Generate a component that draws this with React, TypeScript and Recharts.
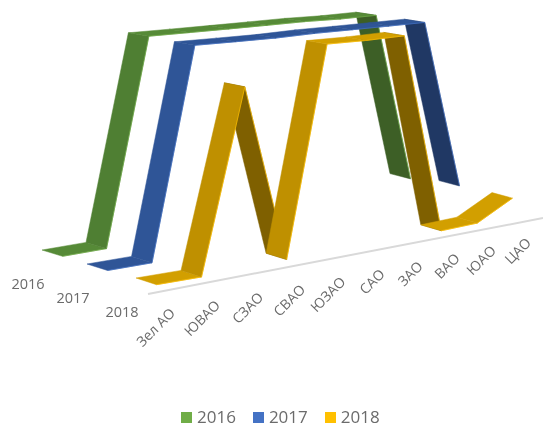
import React from 'react';
import { ComposedChart, Line, XAxis, YAxis, Legend } from 'recharts';

const CATEGORIES = ['Зел АО', 'ЮВАО', 'СЗАО', 'СВАО', 'ЮЗАО', 'САО', 'ЗАО', 'ВАО', 'ЮАО', 'ЦАО'];
const VALUES_2016 = [0, 0, 202, 198, 194, 190, 186, 181, 177, 8];
const VALUES_2017 = [0, 0, 207, 203, 199, 196, 192, 188, 184, 15];
const VALUES_2018 = [0, 0, 180, 2, 207, 203, 200, 0, 0, 17];
const YEARS = ['2016', '2017', '2018'];

const FONT = '"Open Sans", sans-serif';
const TEXT_COLOR = '#6b6b6b';

// the picture is an oblique 3D view: the floor climbs to the right, rows sit one behind the other
const POS_START = 12;
const FLOOR_RISE = 7.6;
const ROW_LIFT: Record<string, number> = { '2016': 50, '2017': 36, '2018': 22 };
const DEPTH_X = 20.5;

// categories get closer together towards the right
const perspective = (i: number) => Math.sqrt(POS_START + i);

const data = CATEGORIES.map((name, i) => ({
  name,
  pos: perspective(i),
  '2016': VALUES_2016[i] + ROW_LIFT['2016'] + FLOOR_RISE * i,
  '2017': VALUES_2017[i] + ROW_LIFT['2017'] + FLOOR_RISE * i,
  '2018': VALUES_2018[i] + ROW_LIFT['2018'] + FLOOR_RISE * i,
  floor: i === 0 || i === CATEGORIES.length - 1 ? 6 + 8.44 * i : null,
}));

const SHADES: Record<string, { rise: string; flat: string; fall: string; edge: string }> = {
  '2016': { rise: '#4f7f33', flat: '#568a37', fall: '#3d5f26', edge: '#70AD47' },
  '2017': { rise: '#2f5597', flat: '#2f5597', fall: '#203864', edge: '#4472C4' },
  '2018': { rise: '#bf9000', flat: '#d29f00', fall: '#7f6000', edge: '#FFC000' },
};

const depthY = (y: number) => 3.5 + ((y - 40) / 240) * 3.2;

// one ribbon, drawn once from the line's own points; falling faces go behind the rising ones
const ribbonDot = (year: string) => (props: any) => {
  const { index, points } = props;
  if (index !== 0) return <g key={`empty-${year}-${index}`} />;
  const segments = points.slice(0, -1).map((p: any, i: number) => {
    const q = points[i + 1];
    const change = q.y - p.y;
    const kind = change > 0 ? 'fall' : change < -60 ? 'rise' : 'flat';
    return { p, q, kind, i };
  });
  const ordered = [
    ...segments.filter((s: any) => s.kind === 'fall'),
    ...segments.filter((s: any) => s.kind !== 'fall'),
  ];
  const shade = SHADES[year];
  return (
    <g key={`ribbon-${year}`}>
      {ordered.map(({ p, q, kind, i }: any) => {
        const px = p.x + DEPTH_X;
        const py = p.y + depthY(p.y);
        const qx = q.x + DEPTH_X;
        const qy = q.y + depthY(q.y);
        return (
          <g key={i}>
            <polygon
              points={`${p.x},${p.y} ${q.x},${q.y} ${qx},${qy} ${px},${py}`}
              fill={(shade as any)[kind]}
              stroke={(shade as any)[kind]}
              strokeWidth={0.5}
            />
            <line x1={px} y1={py} x2={qx} y2={qy} stroke={shade.edge} strokeWidth={1} strokeOpacity={0.7} />
          </g>
        );
      })}
    </g>
  );
};

const rowLabel = (year: string) => (props: any) => {
  if (props.index !== 0) return <g key={`nolabel-${year}-${props.index}`} />;
  return (
    <text
      key={`label-${year}`}
      x={props.x - 14}
      y={props.y + 39}
      textAnchor="middle"
      fontSize={14.5}
      fontFamily={FONT}
      fill={TEXT_COLOR}
    >
      {year}
    </text>
  );
};

const CategoryTick = (props: any) => {
  const i = data.findIndex((d) => Math.abs(d.pos - props.payload.value) < 1e-6);
  const x = props.x + 40;
  const y = props.y - 54 - 7.8 * i;
  return (
    <text
      x={x}
      y={y}
      textAnchor="end"
      fontSize={14}
      fontFamily={FONT}
      fill={TEXT_COLOR}
      transform={`rotate(-45 ${x} ${y})`}
    >
      {CATEGORIES[i]}
    </text>
  );
};

const LegendRow = ({ payload }: any) => (
  <div style={{ display: 'flex', paddingLeft: 181, fontFamily: FONT, fontSize: 17, color: TEXT_COLOR, lineHeight: '14px' }}>
    {(payload || [])
      .filter((item: any) => YEARS.includes(item.value))
      .map((item: any) => (
        <div key={item.value} style={{ display: 'flex', alignItems: 'center', marginRight: 17 }}>
          <span style={{ width: 11, height: 11, background: item.color, marginRight: 5 }} />
          <span>{item.value}</span>
        </div>
      ))}
  </div>
);

const sharedAxis = {
  dataKey: 'pos',
  type: 'number' as const,
  domain: [perspective(0), perspective(CATEGORIES.length - 1)],
};

export default function App() {
  return (
    <div style={{ position: 'absolute', left: 0, top: 0, width: 543, height: 425, filter: 'blur(0.4px)' }}>
      <ComposedChart width={543} height={425} data={data} margin={{ top: 0, right: 0, left: 0, bottom: 124 }}>
        <XAxis {...sharedAxis} xAxisId="2016" hide padding={{ left: 42, right: 153 }} />
        <XAxis {...sharedAxis} xAxisId="2017" hide padding={{ left: 87, right: 104 }} />
        <XAxis
          {...sharedAxis}
          xAxisId="2018"
          padding={{ left: 136, right: 51 }}
          height={1}
          axisLine={false}
          tickLine={false}
          ticks={data.map((d) => d.pos)}
          interval={0}
          tick={<CategoryTick />}
        />
        <XAxis {...sharedAxis} xAxisId="floor" hide padding={{ left: 148, right: 0 }} />
        <YAxis hide domain={[0, 300]} />
        <Line
          xAxisId="floor"
          dataKey="floor"
          stroke="#d9d9d9"
          strokeWidth={2}
          dot={false}
          activeDot={false}
          connectNulls
          legendType="none"
          isAnimationActive={false}
        />
        {YEARS.map((year) => (
          <Line
            key={year}
            xAxisId={year}
            dataKey={year}
            name={year}
            stroke={SHADES[year].edge}
            strokeWidth={0}
            dot={ribbonDot(year)}
            activeDot={false}
            label={rowLabel(year)}
            isAnimationActive={false}
          />
        ))}
        <Legend
          verticalAlign="middle"
          align="center"
          content={<LegendRow />}
          wrapperStyle={{ top: 410, left: 0, width: 543 }}
        />
      </ComposedChart>
    </div>
  );
}
